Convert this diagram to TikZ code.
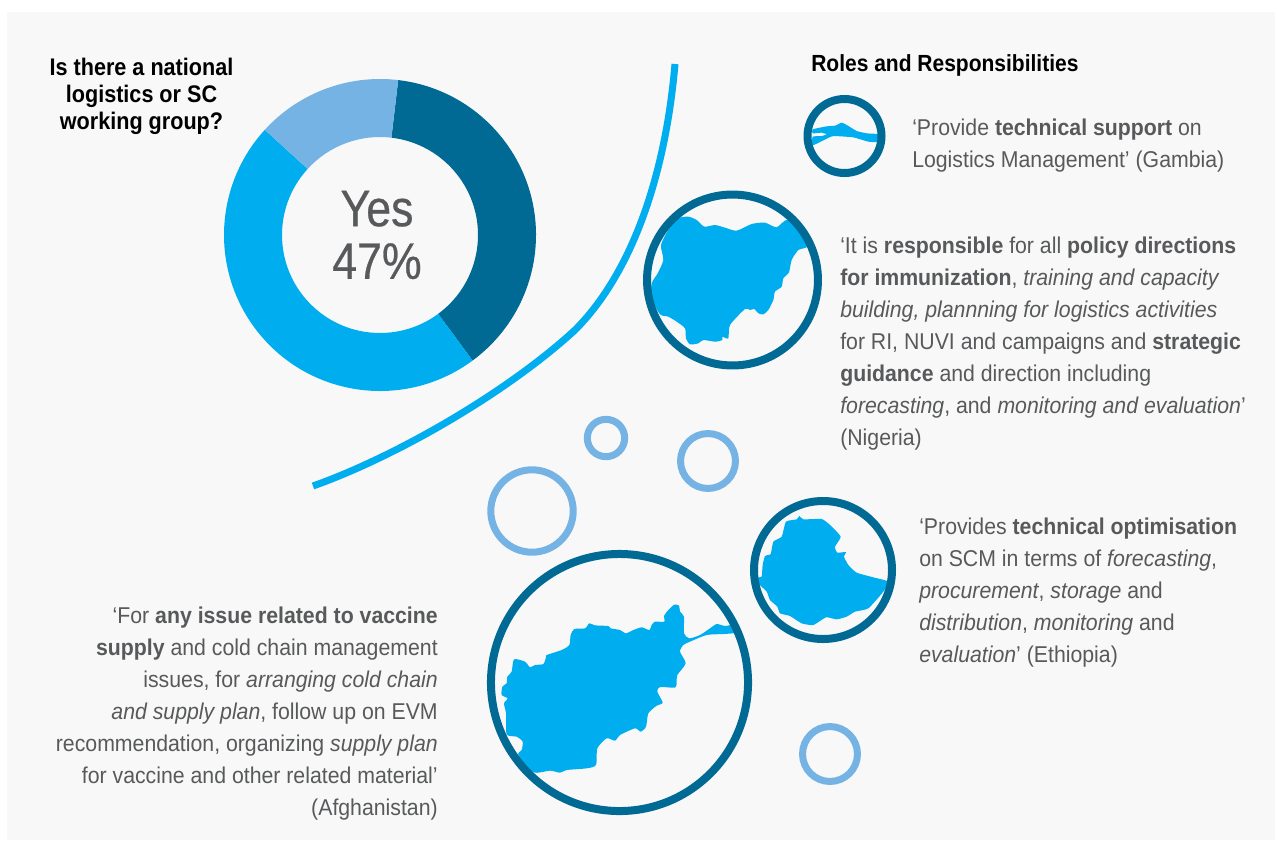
\documentclass[tikz,border=0pt]{standalone}
\usepackage{fontspec}
\setmainfont[FakeStretch=0.93]{Liberation Sans}
\newfontfamily\headfont[FakeStretch=0.9]{Liberation Sans}
\newfontfamily\bigfont[FakeStretch=0.87,FakeBold=0.5]{Liberation Sans}
\definecolor{bgp}{HTML}{F8F8F8}
\definecolor{deep}{HTML}{006A94}
\definecolor{sky}{HTML}{00AEEF}
\definecolor{pale}{HTML}{74B3E3}
\definecolor{txt}{HTML}{58595B}
\tikzset{
 ring/.style={draw=deep,line width=6pt,fill=none},
 bubble/.style={draw=pale,line width=5.25pt,fill=none},
 land/.style={fill=sky,draw=none},
 para/.style={inner sep=0pt,text=txt,font=\fontsize{17.15}{24}\selectfont,anchor=north west,align=left},
 parar/.style={para,anchor=north east,align=right},
 head/.style={inner sep=0pt,text=black,font=\headfont\fontsize{17.5}{20.25}\selectfont\bfseries}
}
\newcommand{\donutseg}[3]{\fill[#3] (#1:117pt) arc[start angle=#1,end angle=#2,radius=117pt] -- (#2:73.5pt) arc[start angle=#2,end angle=#1,radius=73.5pt] -- cycle;}
\begin{document}
\begin{tikzpicture}[x=0.75pt,y=-0.75pt]
\useasboundingbox (0,0) rectangle (1275,840);
\fill[bgp] (7,12) rectangle (1275,840);
% donut
\begin{scope}[shift={(380,235)}]
\donutseg{83.3}{-53.6}{deep}
\donutseg{-53.6}{-222.4}{sky}
\donutseg{137.6}{83.3}{pale}
\end{scope}
\node[inner sep=0pt,text=txt,align=center,font=\bigfont\fontsize{38.5}{39.5}\selectfont] (yes) at (377,235) {Yes\\47\%};
% long arc
\draw[sky,line width=5.25pt] (313,486) .. controls (400,455) and (510,390) .. (575,330) .. controls (630,275) and (665,180) .. (675,64);
\node[head,align=center,anchor=north,font=\headfont\fontsize{18}{20.25}\selectfont\bfseries] (q) at (141.5,57.5) {Is there a national\\logistics or SC\\working group?};
\node[head,anchor=base west] (roles) at (811,71) {Roles and Responsibilities};
% lands
\begin{scope}[shift={(790,85)},scale=1/3]
\fill[land] plot[smooth cycle,tension=0.25] coordinates {(68,133)(110,124)(135,122)(155,113)(172,121)(200,138)(230,145)(268,148)(268,171)(235,170)(190,157)(130,153)(112,160)(68,181)(68,155)(95,153)(110,148)(95,143)(68,145)};
\end{scope}
\begin{scope}[shift={(635,185)},scale=1/3]
\fill[land] plot[smooth cycle,tension=0.4] coordinates {(50,295)(68,265)(85,225)(78,180)(100,135)(130,100)(160,95)(185,105)(208,125)(240,120)(270,128)(305,137)(350,117)(390,113)(425,127)(460,105)(520,180)(490,195)(470,225)(462,262)(445,280)(440,305)(420,320)(415,345)(400,375)(385,388)(370,385)(358,372)(345,375)(330,372)(285,420)(280,460)(262,455)(262,465)(240,470)(205,465)(190,475)(165,478)(153,460)(150,430)(125,410)(100,395)(75,388)(50,340)};
\end{scope}
\begin{scope}[shift={(740,490)},scale=1/3]
\fill[land] plot[smooth cycle,tension=0.3] coordinates {(55,262)(65,260)(68,225)(75,198)(92,192)(100,155)(125,140)(138,95)(170,88)(178,78)(190,88)(245,87)(270,105)(302,140)(285,170)(292,188)(318,186)(312,200)(325,225)(350,248)(400,262)(445,275)(430,305)(385,355)(345,365)(320,380)(290,388)(258,382)(220,405)(185,400)(150,378)(120,370)(112,350)(90,330)(80,305)(55,280)};
\end{scope}
\begin{scope}[shift={(480,540)},scale=1/3]
\fill[land] plot[smooth cycle,tension=0.4] coordinates {(760,255)(735,258)(710,252)(690,265)(660,285)(628,295)(612,280)(612,230)(600,215)(597,197)(583,194)(565,210)(552,228)(553,245)(525,245)(515,255)(508,270)(485,262)(460,270)(438,280)(420,270)(392,265)(385,258)(345,256)(328,250)(315,265)(283,267)(272,285)(268,315)(245,330)(200,345)(198,352)(190,372)(165,375)(150,382)(135,365)(102,358)(95,395)(82,410)(80,430)(67,440)(65,465)(83,475)(72,490)(78,520)(80,583)(110,590)(128,605)(125,630)(115,645)(160,697)(210,692)(240,698)(260,690)(320,685)(348,675)(352,625)(380,595)(405,602)(420,585)(465,565)(482,575)(498,560)(505,520)(530,497)(548,488)(532,455)(540,441)(585,443)(590,428)(592,405)(617,370)(600,335)(610,315)(630,305)(680,285)(730,282)(765,278)};
\end{scope}
% rings
\draw[ring] (844.5,136) circle[radius=27.75pt];
\draw[ring] (732.5,280) circle[radius=64.1pt];
\draw[ring] (823,570) circle[radius=51.75pt];
\draw[ring] (619.5,682.5) circle[radius=96.4pt];
% bubbles
\draw[bubble] (606,438) circle[radius=14pt];
\draw[bubble] (708,461) circle[radius=20.6pt];
\draw[bubble] (532,511) circle[radius=30.9pt];
\draw[bubble] (830,754) circle[radius=20.6pt];
% texts
\node[para] (t1) at (912,119) {‘Provide \textbf{technical support} on\\Logistics Management’ (Gambia)};
\node[para] (t2) at (840,237) {‘It is \textbf{responsible} for all \textbf{policy directions}\\\textbf{for immunization}, \textit{training and capacity}\\\textit{building, plannning for logistics activities}\\for RI, NUVI and campaigns and \textbf{strategic}\\\textbf{guidance} and direction including\\\textit{forecasting}, and \textit{monitoring and evaluation}’\\(Nigeria)};
\node[para] (t3) at (919,518) {‘Provides \textbf{technical optimisation}\\on SCM in terms of \textit{forecasting},\\\textit{procurement}, \textit{storage} and\\\textit{distribution}, \textit{monitoring} and\\\textit{evaluation}’ (Ethiopia)};
\node[parar] (t4) at (438,607) {‘For \textbf{any issue related to vaccine}\\\textbf{supply} and cold chain management\\issues, for \textit{arranging cold chain}\\\textit{and supply plan}, follow up on EVM\\recommendation, organizing \textit{supply plan}\\for vaccine and other related material’\\(Afghanistan)};
\end{tikzpicture}
\end{document}
